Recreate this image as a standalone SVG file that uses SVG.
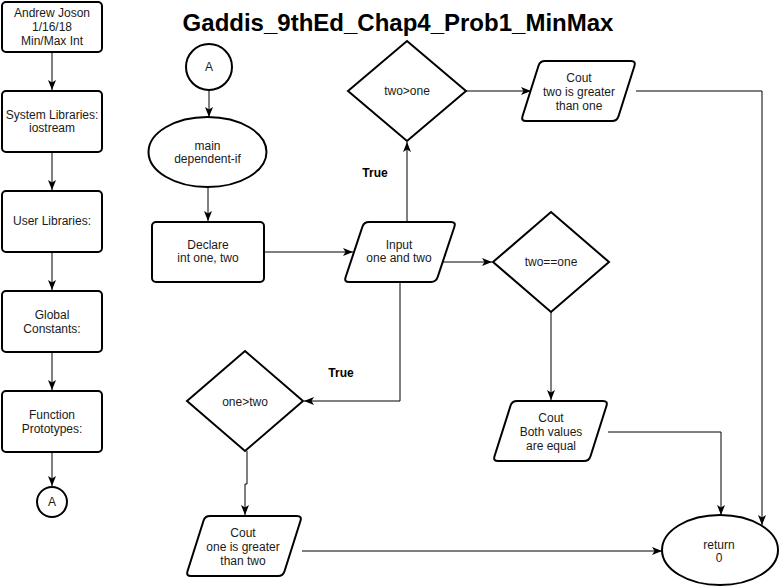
<svg xmlns="http://www.w3.org/2000/svg" width="779" height="587" viewBox="0 0 779 587">
<defs>
<style>
.s{fill:#fff;stroke:#000;stroke-width:2}
.c{fill:none;stroke:#000;stroke-width:1}
.t{font-family:"Liberation Sans",Arial,sans-serif;font-size:12px;fill:#1a1a1a;text-anchor:middle}
.b{font-family:"Liberation Sans",Arial,sans-serif;font-size:12px;font-weight:bold;fill:#000;text-anchor:middle}
.title{font-family:"Liberation Sans",Arial,sans-serif;font-size:24px;font-weight:bold;fill:#000;text-anchor:middle}
</style>
<marker id="arr" viewBox="0 0 10 8" refX="10" refY="4" markerWidth="10" markerHeight="8" orient="auto" markerUnits="userSpaceOnUse">
<path d="M0,0 L10,4 L0,8 L2.5,4 Z" fill="#000"/>
</marker>
</defs>
<rect width="779" height="587" fill="#fff"/>
<text class="title" x="398" y="31">Gaddis_9thEd_Chap4_Prob1_MinMax</text>

<g id="connectors" class="c" marker-end="url(#arr)">
<path class="c" marker-end="url(#arr)" d="M52 52 V90"/>
<path class="c" marker-end="url(#arr)" d="M52 152 V190"/>
<path class="c" marker-end="url(#arr)" d="M52 252 V290"/>
<path class="c" marker-end="url(#arr)" d="M52 352 V390"/>
<path class="c" marker-end="url(#arr)" d="M52 452 V486"/>
<path class="c" marker-end="url(#arr)" d="M209 90 V117"/>
<path class="c" marker-end="url(#arr)" d="M208 187 V221"/>
<path class="c" marker-end="url(#arr)" d="M264 252 H353"/>
<path class="c" marker-end="url(#arr)" d="M407 222 V142"/>
<path class="c" marker-end="url(#arr)" d="M466 91 H531"/>
<path class="c" marker-end="url(#arr)" d="M636 91 H762 V525"/>
<path class="c" marker-end="url(#arr)" d="M443 262 H492"/>
<path class="c" marker-end="url(#arr)" d="M551 312 V400"/>
<path class="c" marker-end="url(#arr)" d="M608 432 H721 V515"/>
<path class="c" marker-end="url(#arr)" d="M400 282 V401 H304"/>
<path class="c" marker-end="url(#arr)" d="M247 451 V484 H245 V515"/>
<path class="c" marker-end="url(#arr)" d="M302 551 H662"/>
</g>
<text class="b" x="375" y="177">True</text>
<text class="b" x="341" y="377">True</text>

<g id="header">
<rect class="s" x="2" y="2" width="100" height="50" rx="4"/>
<text class="t" x="52" y="17">Andrew Joson</text>
<text class="t" x="52" y="31">1/16/18</text>
<text class="t" x="52" y="45">Min/Max Int</text>
</g>
<g id="syslib">
<rect class="s" x="2" y="91" width="100" height="61" rx="4"/>
<text class="t" x="52" y="119">System Libraries:</text>
<text class="t" x="52" y="132">iostream</text>
</g>
<g id="userlib">
<rect class="s" x="2" y="191" width="100" height="61" rx="4"/>
<text class="t" x="52" y="225">User Libraries:</text>
</g>
<g id="global">
<rect class="s" x="2" y="291" width="100" height="61" rx="4"/>
<text class="t" x="52" y="319">Global</text>
<text class="t" x="52" y="333">Constants:</text>
</g>
<g id="proto">
<rect class="s" x="2" y="391" width="100" height="61" rx="4"/>
<text class="t" x="52" y="419">Function</text>
<text class="t" x="52" y="433">Prototypes:</text>
</g>
<g id="connA1">
<circle class="s" cx="52" cy="502" r="15"/>
<text class="t" x="52" y="506">A</text>
</g>
<g id="connA2">
<circle class="s" cx="209" cy="67" r="23"/>
<text class="t" x="209" y="71">A</text>
</g>
<g id="main">
<ellipse class="s" cx="207.5" cy="152" rx="59" ry="35"/>
<text class="t" x="207.5" y="150">main</text>
<text class="t" x="207.5" y="163">dependent-if</text>
</g>
<g id="declare">
<rect class="s" x="152" y="222" width="112" height="60" rx="4"/>
<text class="t" x="208" y="249">Declare</text>
<text class="t" x="208" y="262">int one, two</text>
</g>
<g id="input">
<path class="s" d="M369 222 H451 Q456 222 454.4 226.7 L437.6 277.3 Q436 282 431 282 H349 Q344 282 345.6 277.3 L362.4 226.7 Q364 222 369 222 Z"/>
<text class="t" x="399" y="249">Input</text>
<text class="t" x="399" y="262">one and two</text>
</g>
<g id="twogtone">
<polygon class="s" points="407,41 466,91 407,141 348,91"/>
<text class="t" x="407" y="95">two&gt;one</text>
</g>
<g id="couttwo">
<path class="s" d="M545 61 H631 Q636 61 634.5 65.8 L618.5 116.2 Q617 121 612 121 H526 Q521 121 522.5 116.2 L538.5 65.8 Q540 61 545 61 Z"/>
<text class="t" x="579" y="82">Cout</text>
<text class="t" x="579" y="96">two is greater</text>
<text class="t" x="579" y="110">than one</text>
</g>
<g id="twoeqone">
<polygon class="s" points="551,212 609,262 551,312 493,262"/>
<text class="t" x="551" y="266">two==one</text>
</g>
<g id="coutboth">
<path class="s" d="M517 401 H603 Q608 401 606.5 405.8 L590.5 456.2 Q589 461 584 461 H498 Q493 461 494.5 456.2 L510.5 405.8 Q512 401 517 401 Z"/>
<text class="t" x="551" y="422">Cout</text>
<text class="t" x="551" y="436">Both values</text>
<text class="t" x="551" y="450">are equal</text>
</g>
<g id="onegttwo">
<polygon class="s" points="245,351 303,401 245,451 187,401"/>
<text class="t" x="245" y="406">one&gt;two</text>
</g>
<g id="coutone">
<path class="s" d="M210 516 H297 Q302 516 300.5 520.8 L284.5 571.2 Q283 576 278 576 H191 Q186 576 187.5 571.2 L203.5 520.8 Q205 516 210 516 Z"/>
<text class="t" x="243" y="537">Cout</text>
<text class="t" x="243" y="551">one is greater</text>
<text class="t" x="243" y="565">than two</text>
</g>
<g id="return">
<ellipse class="s" cx="720" cy="550" rx="58" ry="35"/>
<text class="t" x="719" y="549">return</text>
<text class="t" x="719" y="562">0</text>
</g>
</svg>
